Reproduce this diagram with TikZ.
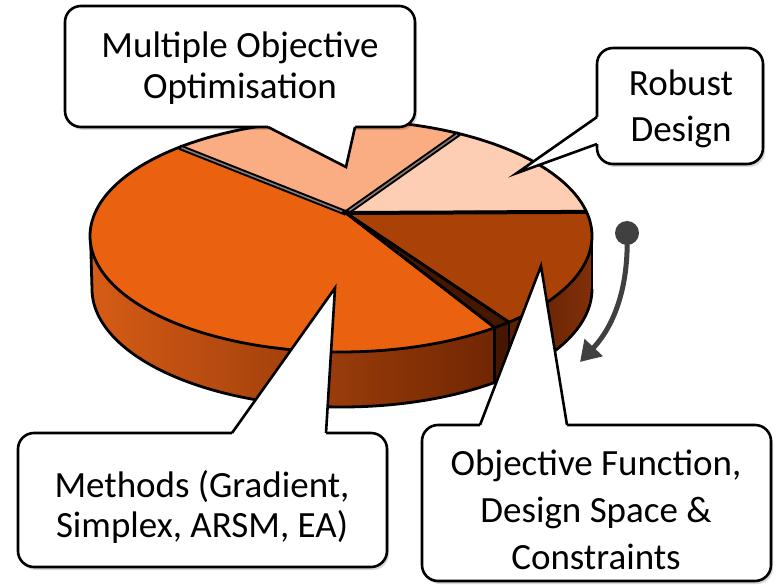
\documentclass[tikz,border=0pt]{standalone}
\usepackage{fontspec}
\setmainfont{Carlito}
\usetikzlibrary{arrows.meta,calc}
\definecolor{methTop}{RGB}{234,97,15}
\definecolor{mooTop}{RGB}{250,172,130}
\definecolor{robTop}{RGB}{253,205,180}
\definecolor{objTop}{RGB}{170,66,8}
\definecolor{msL}{RGB}{214,92,22}
\definecolor{msM}{RGB}{186,72,10}
\definecolor{msR}{RGB}{112,38,2}
\definecolor{osL}{RGB}{90,30,2}
\definecolor{osR}{RGB}{130,48,8}
\definecolor{faceDark}{RGB}{70,22,0}
\definecolor{gapGray}{RGB}{140,125,118}
\definecolor{arrowGray}{RGB}{64,64,64}
\begin{document}
\begin{tikzpicture}[x=1pt,y=-1pt,
  box/.style={draw=black,line width=2.6pt,fill=white,rounded corners=16pt,inner sep=0pt},
  boxshadow/.style={fill=black,opacity=0.15,rounded corners=16pt},
  lbl/.style={align=center,inner sep=0pt,text=black},
  ptr/.style={draw=black,line width=2.6pt,line join=miter},
  edgeline/.style={draw=black,line width=2.8pt,line join=round},
  seam/.style={draw=black,line width=5.5pt},
  seamin/.style={draw=gapGray,line width=1.5pt},
]
\fill[white] (0,0) rectangle (778,585);
\useasboundingbox (0,0) rectangle (778,585);

% key points of the pie
\coordinate (C) at (346,213);
\coordinate (pMM) at ({341+251*cos(230)},{236+116*sin(230)});
\coordinate (pMR) at ({341+251*cos(298)},{236+116*sin(298)});
\coordinate (pRO) at ({341+251*cos(348)},{236+116*sin(348)});
\coordinate (pMe) at ({341+251*cos(52.2)},{236+116*sin(52.2)});
\coordinate (pOb) at ({341+251*cos(48.0)},{236+116*sin(48.0)});
\coordinate (pMeB) at ($(pMe)+(0,54.3)$);
\coordinate (pObB) at ($(pOb)+(0,54.5)$);

% sides
\shade[left color=msL, middle color=msM, right color=msR]
  plot[domain=180:52.2,samples=100] ({341+251*cos(\x)},{236+116*sin(\x)})
  -- plot[domain=52.3:180,samples=100] ({342+250*cos(\x)},{289+118*sin(\x)}) -- cycle;
\fill[faceDark] (pMe) -- (pOb) -- (pObB) -- (pMeB) -- cycle;
\shade[left color=osL, right color=osR]
  plot[domain=48.0:0,samples=60] ({341+251*cos(\x)},{236+116*sin(\x)})
  -- plot[domain=0:48.1,samples=60] ({342+250*cos(\x)},{289+118*sin(\x)}) -- cycle;
\draw[edgeline] plot[domain=180:0,samples=160] ({342+250*cos(\x)},{289+118*sin(\x)});
\draw[edgeline] (90.5,236) -- (92,289);
\draw[edgeline] (592,236) -- (592,289);
\draw[edgeline] (pMe) -- (pMeB);
\draw[edgeline] (pOb) -- (pObB);

% top faces
\filldraw[fill=methTop, edgeline] (C) -- plot[domain=230:52.2,samples=120] ({341+251*cos(\x)},{236+116*sin(\x)}) -- cycle;
\filldraw[fill=mooTop, edgeline] (C) -- plot[domain=230:298,samples=60] ({341+251*cos(\x)},{236+116*sin(\x)}) -- cycle;
\filldraw[fill=robTop, edgeline] (C) -- plot[domain=298:348,samples=60] ({341+251*cos(\x)},{236+116*sin(\x)}) -- cycle;
\filldraw[fill=objTop, edgeline] (C) -- plot[domain=348:408.0,samples=60] ({341+251*cos(\x)},{236+116*sin(\x)}) -- cycle;
\filldraw[fill=faceDark, edgeline] (C) -- (pMe) -- (pOb) -- cycle;

% seams between slices
\draw[seam] (C) -- (pMM);
\draw[seamin, shorten <=4pt, shorten >=2pt] (C) -- (pMM);
\draw[seam] (C) -- (pMR);
\draw[seamin, shorten <=4pt, shorten >=2pt] (C) -- (pMR);
\draw[black, line width=4pt] (C) -- (pRO);

% rotation arrow
\coordinate (aDot) at (627,233);
\coordinate (aEnd) at (580,362);
\fill[arrowGray] (aDot) circle[radius=12pt];
\draw[arrowGray, line width=5pt, -{Triangle[length=20pt,width=24pt]}]
  (aDot) .. controls (629,285) and (615,325) .. (aEnd);

% callout: Multiple Objective Optimisation
\fill[boxshadow] (67,9) rectangle (417,130);
\node[box, minimum width=350pt, minimum height=121pt] (mooBox) at (240,66.5) {};
\coordinate (mooTip) at (346,167);
\coordinate (mooB1) at (268,127);
\coordinate (mooB2) at (355,127);
\fill[white] (mooB1) -- (mooTip) -- (mooB2) -- ($(mooB2)+(0,-5)$) -- ($(mooB1)+(0,-5)$) -- cycle;
\draw[ptr] (mooB1) -- (mooTip) -- (mooB2);
\node[lbl, font=\fontsize{37}{41}\selectfont] (mooTxt) at (240,68) {Multiple Objective\\Optimisation};

% callout: Robust Design
\fill[boxshadow] (599,51) rectangle (765,167);
\node[box, minimum width=166pt, minimum height=116pt] (robBox) at (680,106) {};
\coordinate (robTip) at (517,173);
\coordinate (robB1) at (597,117);
\coordinate (robB2) at (597,144);
\fill[white] (robB1) -- (robTip) -- (robB2) -- ($(robB2)+(5,0)$) -- ($(robB1)+(5,0)$) -- cycle;
\draw[ptr] (robB1) -- (robTip) -- (robB2);
\node[lbl, font=\fontsize{37}{46}\selectfont] (robTxt) at (681,109) {Robust\\Design};

% callout: Methods
\fill[boxshadow] (20,436) rectangle (389,570);
\node[box, minimum width=369pt, minimum height=134pt] (metBox) at (202.5,500) {};
\coordinate (metTip) at (335,288);
\coordinate (metB1) at (232,433);
\coordinate (metB2) at (326,433);
\fill[white] (metB1) -- (metTip) -- (metB2) -- ($(metB2)+(0,5)$) -- ($(metB1)+(0,5)$) -- cycle;
\draw[ptr] (metB1) -- (metTip) -- (metB2);
\node[lbl, font=\fontsize{37}{40}\selectfont] (metTxt) at (202,507) {Methods (Gradient,\\Simplex, ARSM, EA)};

% callout: Objective Function
\fill[boxshadow] (424,428) rectangle (773,584);
\node[box, minimum width=349pt, minimum height=156pt] (objBox) at (596.5,503) {};
\coordinate (objTip) at (541,266);
\coordinate (objB1) at (480,425);
\coordinate (objB2) at (567,425);
\fill[white] (objB1) -- (objTip) -- (objB2) -- ($(objB2)+(0,5)$) -- ($(objB1)+(0,5)$) -- cycle;
\draw[ptr] (objB1) -- (objTip) -- (objB2);
\node[lbl, font=\fontsize{37}{47}\selectfont] (objTxt) at (596,510) {Objective Function,\\Design Space \&\\Constraints};
\end{tikzpicture}
\end{document}
